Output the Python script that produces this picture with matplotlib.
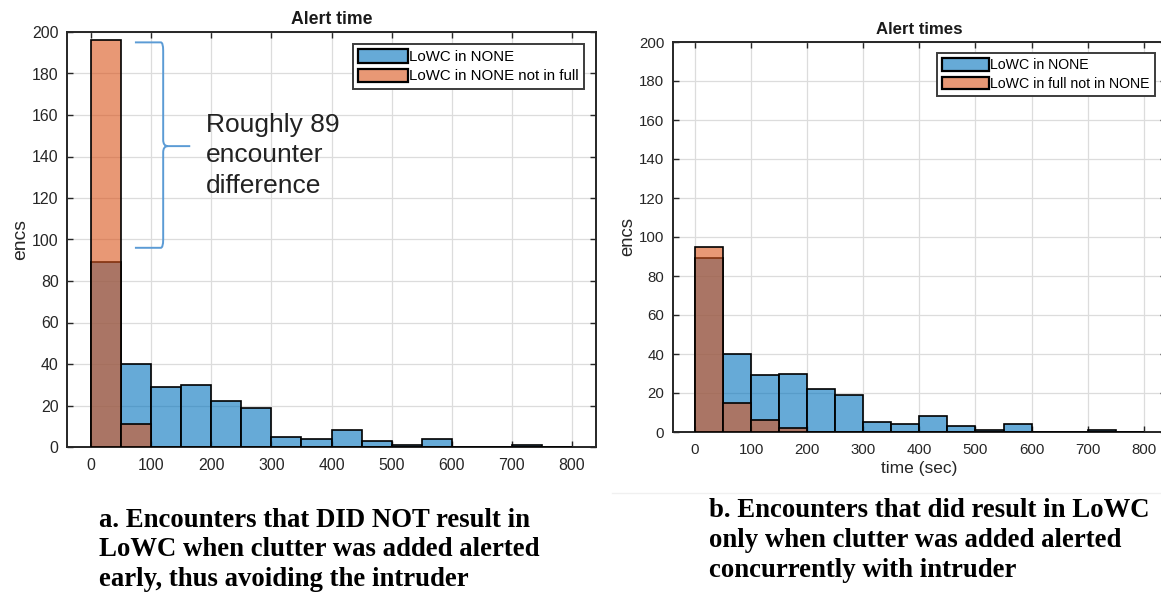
import matplotlib
matplotlib.use('Agg')
import matplotlib.pyplot as plt
import numpy as np
from matplotlib.colors import to_rgba
from matplotlib.path import Path
from matplotlib.patches import PathPatch
from matplotlib.lines import Line2D

plt.rcParams['font.family'] = ['Liberation Sans', 'DejaVu Sans']

# histogram bins (sec) and counts per bin
bin_edges = np.arange(0, 850, 50)
none_counts = [89, 40, 29, 30, 22, 19, 5, 4, 8, 3, 1, 4, 0, 0, 1, 0]
none_not_full = [196, 11, 0, 0, 0, 0, 0, 0, 0, 0, 0, 0, 0, 0, 0, 0]
full_not_none = [95, 15, 6, 2, 0, 0, 0, 0, 0, 0, 0, 0, 0, 0, 0, 0]

x_ticks = np.arange(0, 900, 100)
y_ticks = np.arange(0, 220, 20)

titles = ['Alert time', 'Alert times']
labels_a = ['LoWC in NONE', 'LoWC in NONE not in full']
labels_b = ['LoWC in NONE', 'LoWC in full not in NONE']
note_lines = ['Roughly 89', 'encounter', 'difference']
caption_a = ['a. Encounters that DID NOT result in',
             'LoWC when clutter was added alerted',
             'early, thus avoiding the intruder']
caption_b = ['b. Encounters that did result in LoWC',
             'only when clutter was added alerted',
             'concurrently with intruder']

blue = to_rgba('#0072bd', 0.6)
orange = to_rgba('#d95319', 0.6)
dark = '#262626'

fig = plt.figure(figsize=(11.61, 5.95), dpi=100)
ax1 = fig.add_axes([67 / 1161, 148 / 595, 529 / 1161, 415 / 595])
ax2 = fig.add_axes([672.6 / 1161, 163 / 595, 493.6 / 1161, 390 / 595])


def hist_panel(ax, first, second, labels, title, fs):
    width = np.diff(bin_edges)
    ax.bar(bin_edges[:-1], first, width=width, align='edge', color=blue,
           edgecolor='black', linewidth=1.2, label=labels[0], zorder=2)
    ax.bar(bin_edges[:-1], second, width=width, align='edge', color=orange,
           edgecolor='black', linewidth=1.2, label=labels[1], zorder=3)
    ax.set_xlim(-40, 840)
    ax.set_ylim(0, 200)
    ax.set_xticks(x_ticks)
    ax.set_yticks(y_ticks)
    ax.grid(True, color='#dcdcdc', linewidth=0.9, zorder=0)
    ax.set_axisbelow(True)
    ax.tick_params(direction='in', length=4, width=1, colors=dark,
                   labelsize=fs, top=True, right=True)
    ax.tick_params(axis='x', pad=8)
    ax.tick_params(axis='y', pad=6)
    for sp in ax.spines.values():
        sp.set_color(dark)
        sp.set_linewidth(1.4)
    ax.set_title(title, fontsize=fs + 1.3, fontweight='bold', color='#1a1a1a',
                 pad=6)
    ax.set_ylabel('encs', fontsize=fs + 2.5, color=dark, labelpad=2)
    leg = ax.legend(loc='upper right', fontsize=fs - 0.6, handlelength=3.3,
                    handleheight=1.0, handletextpad=0.1, labelspacing=0.3,
                    borderpad=0.35, borderaxespad=0.8, fancybox=False,
                    framealpha=1)
    leg.get_frame().set_edgecolor('#3c3c3c')
    leg.get_frame().set_linewidth(1.4)
    for h in leg.legend_handles:
        h.set_linewidth(1.6)
    return ax


hist_panel(ax1, none_counts, none_not_full, labels_a, titles[0], 11.4)
hist_panel(ax2, none_counts, full_not_none, labels_b, titles[1], 10.8)
ax2.set_xlabel('time (sec)', fontsize=12.5, color=dark, labelpad=3)

# curly brace marking the gap between the two first-bin counts
x0, xv, xt = 73, 120, 165
yt, yb, ym = 195, 96, 145
verts = [(x0, yt), (xv - 4, yt), (xv, yt), (xv, yt - 4),
         (xv, ym + 3), (xv, ym), (xv + 8, ym), (xt, ym),
         (xv + 8, ym), (xv, ym), (xv, ym - 3),
         (xv, yb + 4), (xv, yb), (xv - 4, yb), (x0, yb)]
codes = [Path.MOVETO, Path.LINETO, Path.CURVE3, Path.CURVE3,
         Path.LINETO, Path.CURVE3, Path.CURVE3, Path.LINETO,
         Path.MOVETO, Path.CURVE3, Path.CURVE3,
         Path.LINETO, Path.CURVE3, Path.CURVE3, Path.LINETO]
ax1.add_patch(PathPatch(Path(verts, codes), facecolor='none',
                        edgecolor='#5b9bd5', linewidth=1.4, zorder=4))
for i, line in enumerate(note_lines):
    ax1.text(191, 151.8 - 14.6 * i, line, fontsize=19, color='#222222',
             va='baseline', ha='left', zorder=5)

# faint edge under the right-hand plot
fig.add_artist(Line2D([612 / 1161, 1], [1 - 493 / 595, 1 - 493 / 595],
                      color='#f0f0f0', linewidth=1))

# captions
for i, line in enumerate(caption_a):
    fig.text(99 / 1161, 1 - (527 + 29.5 * i) / 595, line, fontsize=19.3,
             fontweight='bold', family='Liberation Serif', ha='left',
             va='baseline', color='black')
for i, line in enumerate(caption_b):
    fig.text(709 / 1161, 1 - (517 + 30 * i) / 595, line, fontsize=19.3,
             fontweight='bold', family='Liberation Serif', ha='left',
             va='baseline', color='black')

fig.savefig('out.png', dpi=100, facecolor='white')
